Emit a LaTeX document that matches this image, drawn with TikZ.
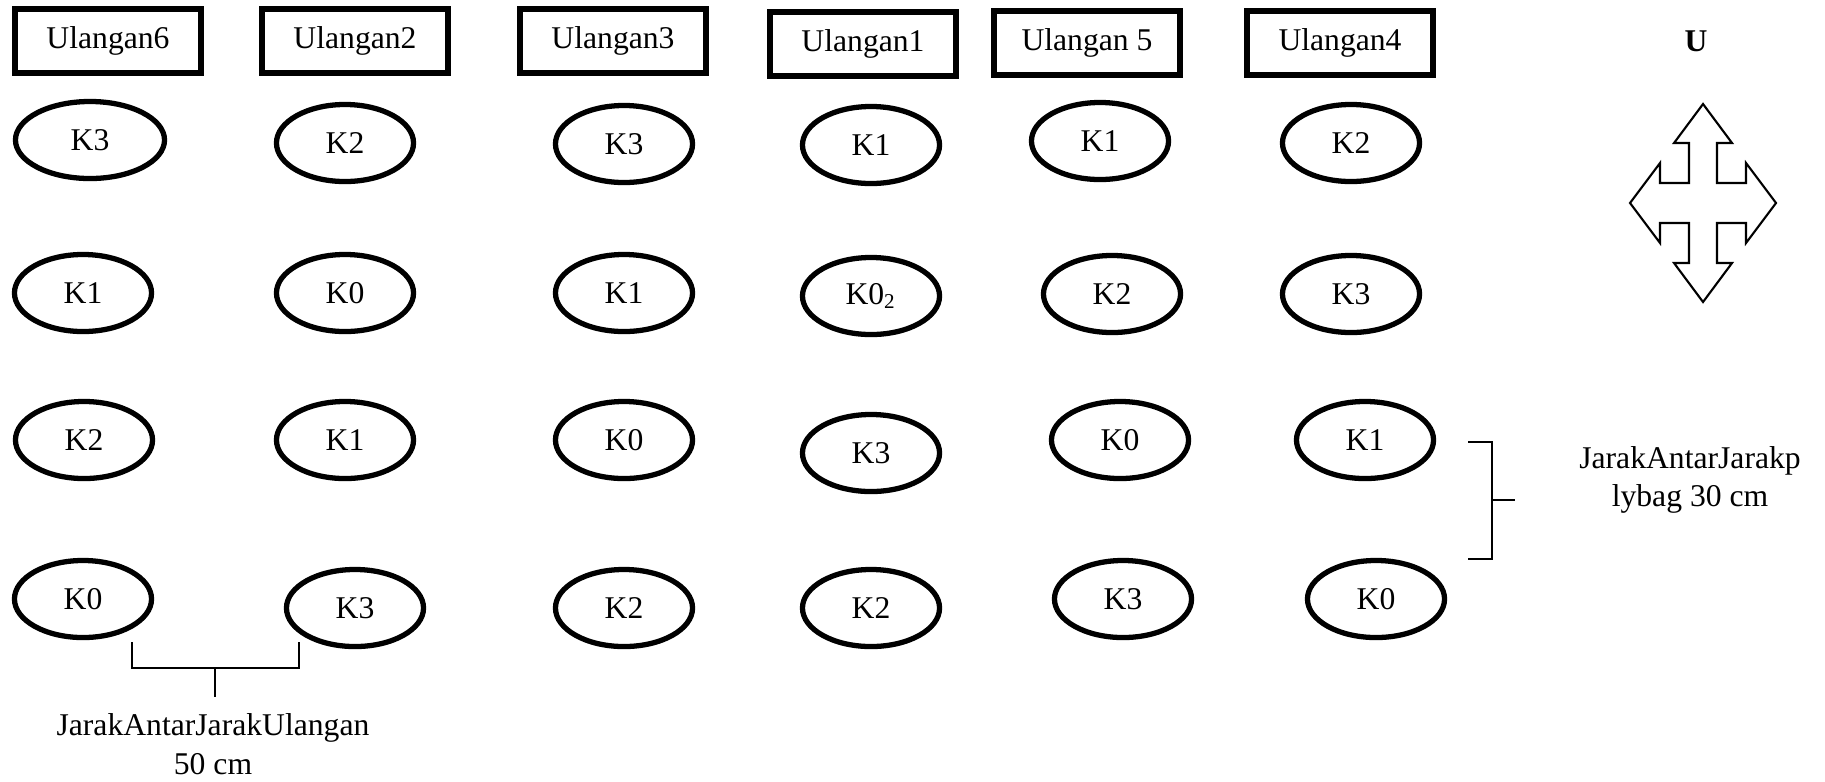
\documentclass[tikz,border=0pt]{standalone}
\usepackage{fontspec}
\setmainfont{Liberation Serif}
\usetikzlibrary{shapes.geometric}

\begin{document}
\begin{tikzpicture}[x=0.01cm, y=-0.01cm, font=\fontsize{9}{11}\selectfont, ulg/.style={draw, line width=1.7pt, minimum width=18.6mm, minimum height=6.3mm, inner sep=2pt}, petak/.style={draw, ellipse, line width=1.5pt, minimum width=13.7mm, minimum height=7.7mm, inner sep=1pt}, brk/.style={line width=0.5pt}]
\useasboundingbox (0,0) rectangle (1825,781);
% ulangan
\node[ulg] (u6) at (108,41) {Ulangan6};
\node[ulg] (u2) at (355,41) {Ulangan2};
\node[ulg] (u3) at (613,41) {Ulangan3};
\node[ulg] (u1) at (863,44) {Ulangan1};
\node[ulg] (u5) at (1087,43) {Ulangan 5};
\node[ulg] (u4) at (1340,43) {Ulangan4};
\node[font=\fontsize{9}{11}\selectfont\bfseries] (utara) at (1696,41) {U};
% petak perlakuan
\node[petak, minimum width=14.9mm] (a1) at (90,140) {K3};
\node[petak] (b1) at (345,143) {K2};
\node[petak] (c1) at (624,144) {K3};
\node[petak] (d1) at (871,145) {K1};
\node[petak] (e1) at (1100,141) {K1};
\node[petak] (f1) at (1351,143) {K2};
\node[petak] (a2) at (83,293) {K1};
\node[petak] (b2) at (345,293) {K0};
\node[petak] (c2) at (624,293) {K1};
\node[petak] (d2) at (871,296) {K0\textsubscript{2}};
\node[petak] (e2) at (1112,294) {K2};
\node[petak] (f2) at (1351,294) {K3};
\node[petak] (a3) at (84,440) {K2};
\node[petak] (b3) at (345,440) {K1};
\node[petak] (c3) at (624,440) {K0};
\node[petak] (d3) at (871,453) {K3};
\node[petak] (e3) at (1120,440) {K0};
\node[petak] (f3) at (1365,440) {K1};
\node[petak] (a4) at (83,599) {K0};
\node[petak] (b4) at (355,608) {K3};
\node[petak] (c4) at (624,608) {K2};
\node[petak] (d4) at (871,608) {K2};
\node[petak] (e4) at (1123,599) {K3};
\node[petak] (f4) at (1376,599) {K0};
% arah mata angin
\coordinate (arah) at (1703,203);
\draw[line width=0.6pt, shift={(arah)}] (0,-99) -- (29,-60) -- (14,-60) -- (14,-20) -- (43,-20) -- (43,-40) -- (73,0) -- (43,40) -- (43,20) -- (14,20) -- (14,60) -- (29,60) -- (0,99) -- (-29,60) -- (-14,60) -- (-14,20) -- (-43,20) -- (-43,40) -- (-73,0) -- (-43,-40) -- (-43,-20) -- (-14,-20) -- (-14,-60) -- (-29,-60) -- cycle;
% jarak
\coordinate (pa) at (1468,442); \coordinate (pb) at (1492,442); \coordinate (pc) at (1492,559); \coordinate (pd) at (1468,559);
\coordinate (pm) at (1492,500); \coordinate (pt) at (1515,500);
\draw[brk] (pa) -- (pb) -- (pc) -- (pd); \draw[brk] (pm) -- (pt);
\node[align=center] (jp) at (1690,480) {JarakAntarJarakp\\lybag 30 cm};
\coordinate (ua) at (132,642); \coordinate (ub) at (132,668); \coordinate (uc) at (299,668); \coordinate (ud) at (299,642);
\coordinate (um) at (215,668); \coordinate (ut) at (215,697);
\draw[brk] (ua) -- (ub) -- (uc) -- (ud); \draw[brk] (um) -- (ut);
\node[align=center] (ju) at (213,744) {JarakAntarJarakUlangan\\50 cm};
\end{tikzpicture}
\end{document}
